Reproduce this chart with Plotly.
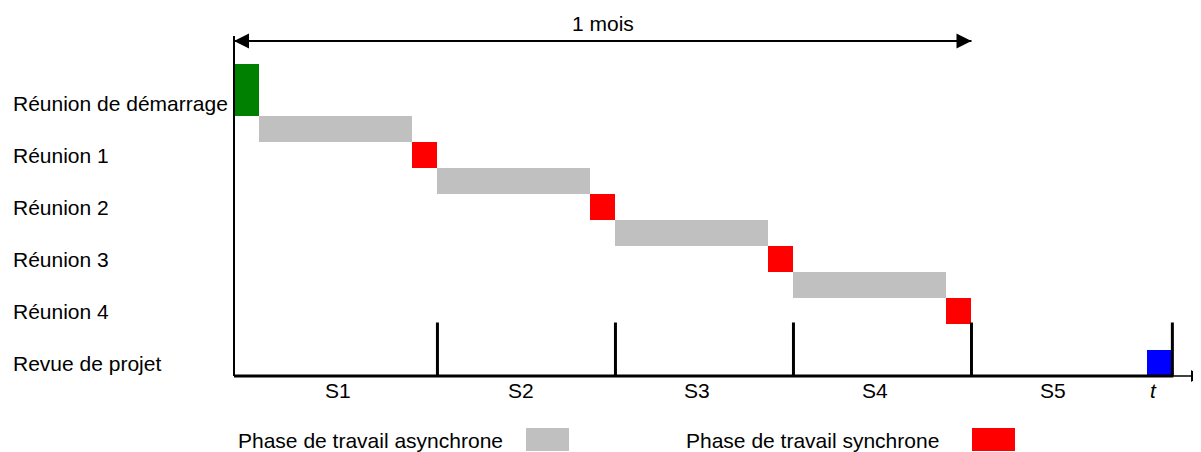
import plotly.graph_objects as go

# ---- data ----
row_labels = ["Réunion de démarrage", "Réunion 1", "Réunion 2", "Réunion 3", "Réunion 4", "Revue de projet"]
row_levels = [10, 8, 6, 4, 2, 0]

kickoff_start = [0]
kickoff_dur = [1]
kickoff_level = [10.5]

async_start = [1, 8, 15, 22]
async_dur = [6, 6, 6, 6]
async_level = [9, 7, 5, 3]

sync_start = [7, 14, 21, 28]
sync_dur = [1, 1, 1, 1]
sync_level = [8, 6, 4, 2]

review_start = [35.9]
review_dur = [1]
review_level = [0]

week_bounds = [8, 15, 22, 29, 36.9]
week_labels = ["S1", "S2", "S3", "S4", "S5"]
week_label_x = [4.1, 11.3, 18.2, 25.2, 32.2]
month_span = [0, 29]
month_label = "1 mois"
t_label_x = 36.15

legend_labels = ["Phase de travail asynchrone", "Phase de travail synchrone"]

# ---- styling / geometry ----
PAGE_W, PAGE_H = 1201, 452
BODY_MARGIN = 8                       # browser default body margin
W, H = PAGE_W - BODY_MARGIN, PAGE_H - BODY_MARGIN
PX_DAY = 25.43     # pixels per day
PX_ROW = 26.0      # pixels per row unit
X0_PX = 234        # page pixel of day 0
Y0_PX = 363        # page pixel of level 0


def X(px):
    """page pixel -> data x"""
    return (px - X0_PX) / PX_DAY


def Y(px):
    """page pixel -> data y"""
    return (Y0_PX - px) / PX_ROW


def dx(px):
    return px / PX_DAY


def dy(px):
    return px / PX_ROW


xr = [X(BODY_MARGIN), X(PAGE_W)]
yr = [Y(PAGE_H), Y(BODY_MARGIN)]

FONT = "Liberation Sans, Arial, sans-serif"
FS = 21
GRAY = "#C0C0C0"
RED = "#FF0000"
GREEN = "#008000"
BLUE = "#0000FF"

fig = go.Figure()


def add_bars(start, dur, level, color, width):
    fig.add_trace(go.Bar(
        x=dur, base=start, y=level, orientation="h", width=width,
        marker=dict(color=color, line=dict(width=0)), showlegend=False,
        hoverinfo="skip",
    ))


add_bars(kickoff_start, kickoff_dur, kickoff_level, GREEN, 2)
add_bars(async_start, async_dur, async_level, GRAY, 1)
add_bars(sync_start, sync_dur, sync_level, RED, 1)
add_bars(review_start, review_dur, review_level, BLUE, 1)

shapes = []
axis_y = -0.5
x_end = week_bounds[-1]

# vertical axis
shapes.append(dict(type="line", x0=0, x1=0, y0=axis_y, y1=Y(36),
                   line=dict(color="black", width=2)))
# horizontal axis (thick)
shapes.append(dict(type="line", x0=0, x1=x_end + dx(1), y0=axis_y, y1=axis_y,
                   line=dict(color="black", width=3)))
# thin extension + arrowhead
shapes.append(dict(type="line", x0=x_end, x1=X(1192), y0=axis_y, y1=axis_y,
                   line=dict(color="black", width=1.5)))
tip = X(1200)
shapes.append(dict(type="path",
                   path=f"M {tip - dx(9)} {axis_y + dy(6)} L {tip} {axis_y} L {tip - dx(9)} {axis_y - dy(6)} Z",
                   fillcolor="black", line=dict(width=0)))
# week ticks
for wb in week_bounds:
    shapes.append(dict(type="line", x0=wb, x1=wb, y0=axis_y, y1=Y(322.5),
                       line=dict(color="black", width=3)))

# month arrow
my = Y(41)
shapes.append(dict(type="line", x0=month_span[0], x1=month_span[1], y0=my, y1=my,
                   line=dict(color="black", width=2)))
ah_len, ah_h = dx(15), dy(7.5)
a, b = month_span
shapes.append(dict(type="path",
                   path=f"M {a} {my} L {a + ah_len} {my + ah_h} L {a + ah_len} {my - ah_h} Z",
                   fillcolor="black", line=dict(width=0)))
shapes.append(dict(type="path",
                   path=f"M {b} {my} L {b - ah_len} {my + ah_h} L {b - ah_len} {my - ah_h} Z",
                   fillcolor="black", line=dict(width=0)))

# legend boxes
leg_y0, leg_y1 = Y(451), Y(428)
shapes.append(dict(type="rect", x0=X(526), x1=X(569), y0=leg_y0, y1=leg_y1,
                   fillcolor=GRAY, line=dict(width=0)))
shapes.append(dict(type="rect", x0=X(972), x1=X(1015), y0=leg_y0, y1=leg_y1,
                   fillcolor=RED, line=dict(width=0)))

txt_font = dict(family=FONT, size=FS, color="black")
annotations = []
for lab, lvl in zip(row_labels, row_levels):
    annotations.append(dict(x=X(11), y=lvl, text=lab, showarrow=False,
                            xanchor="left", yanchor="middle", font=txt_font))
wl_y = Y(390)
for lab, xx in zip(week_labels, week_label_x):
    annotations.append(dict(x=xx, y=wl_y, text=lab, showarrow=False,
                            xanchor="center", yanchor="middle", font=txt_font))
annotations.append(dict(x=t_label_x, y=wl_y, text="<i>t</i>", showarrow=False,
                        xanchor="center", yanchor="middle", font=txt_font))
annotations.append(dict(x=(month_span[0] + month_span[1]) / 2, y=Y(23),
                        text=month_label, showarrow=False, xanchor="center", yanchor="middle",
                        font=txt_font))
leg_ty = Y(440)
annotations.append(dict(x=X(236), y=leg_ty, text=legend_labels[0], showarrow=False,
                        xanchor="left", yanchor="middle", font=txt_font))
annotations.append(dict(x=X(684), y=leg_ty, text=legend_labels[1], showarrow=False,
                        xanchor="left", yanchor="middle", font=txt_font))

fig.update_layout(
    width=W, height=H, autosize=False,
    margin=dict(l=0, r=0, t=0, b=0, pad=0),
    paper_bgcolor="white", plot_bgcolor="white",
    barmode="overlay", bargap=0,
    showlegend=False,
    xaxis=dict(range=xr, visible=False, fixedrange=True),
    yaxis=dict(range=yr, visible=False, fixedrange=True),
    shapes=shapes, annotations=annotations,
)

fig.write_html("out.html")
